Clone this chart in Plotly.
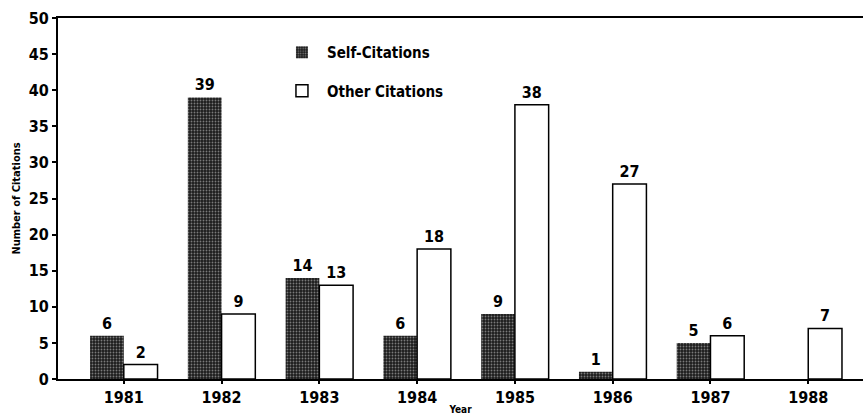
import plotly.graph_objects as go

years = ["1981", "1982", "1983", "1984", "1985", "1986", "1987", "1988"]
self_citations = [6, 39, 14, 6, 9, 1, 5, 0]
other_citations = [2, 9, 13, 18, 38, 27, 6, 7]
y_ticks = [0, 5, 10, 15, 20, 25, 30, 35, 40, 45, 50]

FONT = "DejaVu Sans Condensed"

def labels(vals):
    return [str(v) if v else "" for v in vals]

fig = go.Figure()
fig.add_trace(go.Bar(
    x=years, y=self_citations, name="Self-Citations",
    text=labels(self_citations), textposition="outside",
    textfont=dict(family=FONT, size=16, color="black", weight="bold"),
    marker=dict(color="#1c1c1c",
                line=dict(color="#111", width=0),
                pattern=dict(shape=".", fgcolor="#d8d8d8", bgcolor="#1c1c1c",
                             size=3, solidity=0.3, fillmode="overlay")),
    legendgroup="a", cliponaxis=False,
))
fig.add_trace(go.Bar(
    x=years, y=other_citations, name="Other Citations",
    text=labels(other_citations), textposition="outside",
    textfont=dict(family=FONT, size=16, color="black", weight="bold"),
    marker=dict(color="white", line=dict(color="black", width=1.5)),
    legendgroup="b", cliponaxis=False,
))

fig.update_layout(
    width=863, height=415,
    margin=dict(l=58, r=0, t=18, b=36, autoexpand=False),
    paper_bgcolor="white", plot_bgcolor="white",
    barmode="group", bargap=0.31, bargroupgap=0,
    font=dict(family=FONT, color="black"),
    showlegend=True,
    legend=dict(x=0.272, y=0.95, xanchor="left", yanchor="top",
                bgcolor="rgba(0,0,0,0)", tracegroupgap=16,
                font=dict(family=FONT, size=15, weight="bold"),
                itemwidth=40),
    xaxis=dict(
        type="category", range=[-0.673, 7.56], automargin=False,
        showline=True, linecolor="black", linewidth=2, mirror=True,
        ticks="outside", ticklen=3, tickwidth=1.5, tickcolor="black",
        tickfont=dict(family=FONT, size=16, weight="bold"),
        title=dict(text="Year", font=dict(family=FONT, size=10, weight="bold"), standoff=0),
        showgrid=False,
    ),
    yaxis=dict(
        range=[0, 50], tickvals=y_ticks, automargin=False,
        showline=True, linecolor="black", linewidth=2,
        ticks="outside", ticklen=4, tickwidth=1.5, tickcolor="black",
        tickfont=dict(family=FONT, size=16, weight="bold"),
        title=dict(text="Number of Citations", font=dict(family=FONT, size=11, weight="bold"), standoff=6),
        showgrid=False, zeroline=False,
    ),
)

fig.write_html("out.html", config={"displayModeBar": False},
               post_script="document.body.style.margin='0';document.body.style.overflow='hidden';")
